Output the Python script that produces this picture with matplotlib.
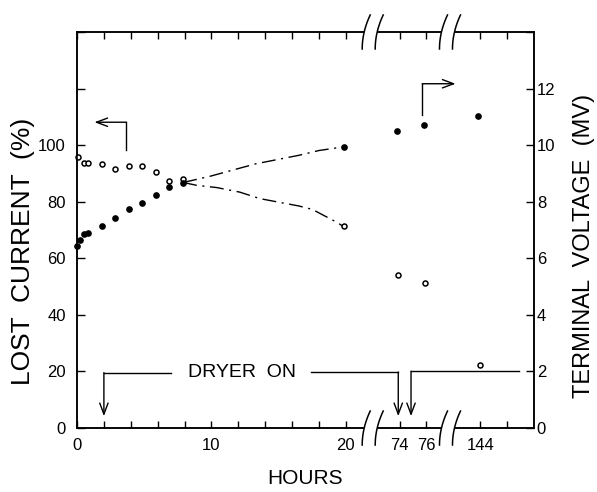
import numpy as np
import matplotlib
matplotlib.use("Agg")
import matplotlib.pyplot as plt
from matplotlib.transforms import ScaledTranslation
from matplotlib.patches import Polygon
from matplotlib.lines import Line2D

plt.rcParams['font.family'] = ['Liberation Sans', 'DejaVu Sans']

# Data (hours, %, MV)
hours_open = [0.1, 0.55, 0.85, 1.85, 2.85, 3.85, 4.85, 5.85, 6.85, 7.85, 19.9, 73.9, 75.9, 144.0]
lost_current = [95.7, 93.6, 93.6, 93.5, 91.4, 92.6, 92.5, 90.4, 87.5, 87.9, 71.3, 54.2, 51.2, 22.2]

hours_filled = [0.0, 0.2, 0.55, 0.85, 1.85, 2.85, 3.85, 4.85, 5.85, 6.85, 7.85, 19.85, 73.8, 75.8, 143.8]
voltage = [6.42, 6.66, 6.85, 6.88, 7.14, 7.42, 7.73, 7.97, 8.22, 8.51, 8.65, 9.95, 10.5, 10.7, 11.04]

trend_hours_v = [7.9, 9.9, 11.6, 13.3, 16.5, 18.0, 19.7]
trend_v = [8.68, 8.90, 9.12, 9.34, 9.64, 9.81, 9.93]
trend_hours_c = [7.9, 8.9, 10.4, 12.1, 13.6, 16.5, 17.5, 19.3, 19.8]
trend_c = [86.8, 85.8, 85.0, 83.4, 81.1, 78.5, 77.3, 72.8, 71.3]

tick_hours = [0, 2, 4, 6, 8, 10, 12, 14, 16, 18, 20, 74, 76, 144, 146]
tick_names = ['0', '', '', '', '', '10', '', '', '', '', '20', '74', '76', '144', '']
break_pos = [21.85, 27.6]


def to_pos(h):
    # broken time axis: 0-21 h, then 74-76 h, then 144-146 h
    h = np.asarray(h, dtype=float)
    return np.where(h <= 21, h, np.where(h < 100, h - 50, h - 114))


fig = plt.figure(figsize=(5.97, 4.92), dpi=100)
ax = fig.add_axes([0.129, 0.130, 0.7655, 0.805])
ax2 = ax.twinx()

ax.set_xlim(0, 34)
ax.set_ylim(0, 140)
ax2.set_ylim(0, 14)

for a in (ax, ax2):
    for s in a.spines.values():
        s.set_linewidth(1.1)

ax.set_xticks(to_pos(tick_hours))
ax.set_xticklabels(tick_names)
ax.set_yticks(np.arange(0, 141, 20))
ax.set_yticklabels(['0', '20', '40', '60', '80', '100', '', ''])
ax.tick_params(axis='x', direction='in', length=5, width=1, labelsize=12, pad=7, top=True)
ax.tick_params(axis='y', direction='in', length=6, width=1, labelsize=12, pad=8)

ax2.set_yticks(np.arange(0, 15, 2))
ax2.set_yticklabels(['0', '2', '4', '6', '8', '10', '12', ''])
ax2.tick_params(axis='y', direction='in', length=6, width=1, labelsize=12, pad=2)

# points
ax.plot(to_pos(hours_open), lost_current, 'o', ms=3.6, mfc='white', mec='black', mew=1.1, clip_on=False, zorder=4)
ax2.plot(to_pos(hours_filled), voltage, 'o', ms=3.8, color='black', clip_on=False, zorder=4)

# dash-dot trend lines
ax2.plot(to_pos(trend_hours_v), trend_v, color='black', lw=1.0, dashes=(10, 4, 1.5, 4))
ax.plot(to_pos(trend_hours_c), trend_c, color='black', lw=1.0, dashes=(10, 4, 1.5, 4))

arrow = dict(arrowstyle='->,head_length=0.8,head_width=0.3', lw=1.0, color='black', shrinkA=0, shrinkB=0)

# left-pointing arrow (lost current axis)
ax.plot([3.66, 3.66], [98.2, 108.1], color='black', lw=1.0)
ax.annotate('', xy=(1.3, 108.1), xytext=(3.66, 108.1), arrowprops=arrow)

# right-pointing arrow (voltage axis)
ax.plot([25.68, 25.68], [110.7, 121.7], color='black', lw=1.0)
ax.annotate('', xy=(28.16, 121.7), xytext=(25.68, 121.7), arrowprops=arrow)

# DRYER ON markers
ax.plot([2.0, 7.0], [19.6, 19.6], color='black', lw=1.0)
ax.annotate('', xy=(2.0, 4.2), xytext=(2.0, 19.6), arrowprops=arrow)
ax.text(12.3, 19.6, 'DRYER  ON', fontsize=14, ha='center', va='center')
ax.plot([17.4, 23.9], [19.8, 19.8], color='black', lw=1.0)
ax.annotate('', xy=(23.9, 4.2), xytext=(23.9, 19.8), arrowprops=arrow)
ax.plot([24.85, 32.9], [20.1, 20.1], color='black', lw=1.0)
ax.annotate('', xy=(24.85, 4.2), xytext=(24.85, 20.1), arrowprops=arrow)

# axis break marks on top and bottom spines
t = np.linspace(-1, 1, 40)
for xb in break_pos:
    for yb in (0, 1):
        trans = fig.dpi_scale_trans + ScaledTranslation(xb, yb, ax.get_xaxis_transform())
        curves = []
        for dx in (-0.065, 0.065):
            cx = dx + 0.02 * t ** 2 + 0.04 * t
            cy = 0.17 * t
            curves.append((cx, cy))
        gap = np.column_stack([np.r_[curves[0][0], curves[1][0][::-1]],
                               np.r_[curves[0][1], curves[1][1][::-1]]])
        fig.add_artist(Polygon(gap, closed=True, facecolor='white', edgecolor='none',
                               transform=trans, zorder=5))
        for cx, cy in curves:
            fig.add_artist(Line2D(cx, cy, color='black', lw=1.1, transform=trans, zorder=6))

fig.text(0.038, 0.49, 'LOST  CURRENT  (%)', rotation=90, fontsize=19, ha='center', va='center')
fig.text(0.978, 0.50, 'TERMINAL  VOLTAGE  (MV)', rotation=90, fontsize=17, ha='center', va='center')
fig.text(305 / 597, 1 - 478 / 492, 'HOURS', fontsize=15, ha='center', va='center')

fig.savefig('out.png', dpi=100)
